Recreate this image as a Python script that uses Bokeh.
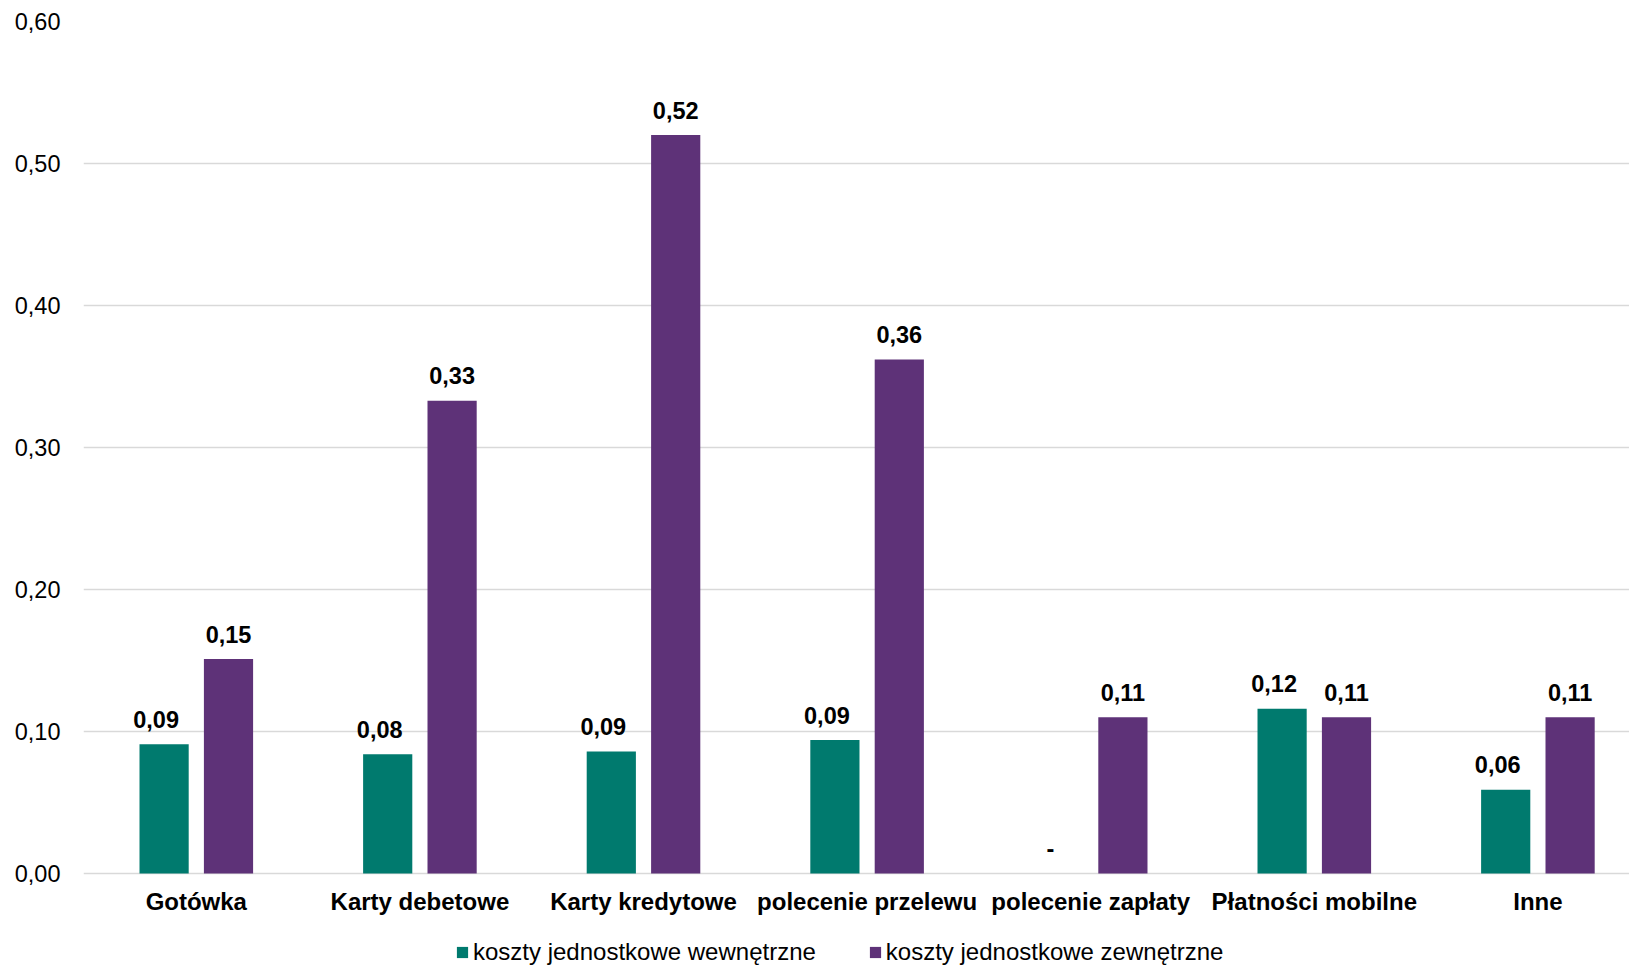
from bokeh.plotting import figure
from bokeh.models import ColumnDataSource, Range1d, Legend, LegendItem, FixedTicker
from bokeh.transform import dodge
from bokeh.core.properties import value
from bokeh.embed import file_html
from bokeh.resources import INLINE

categories = ["Gotówka", "Karty debetowe", "Karty kredytowe", "polecenie przelewu",
              "polecenie zapłaty", "Płatności mobilne", "Inne"]
internal = [0.091, 0.084, 0.086, 0.094, 0.0, 0.116, 0.059]
external = [0.151, 0.333, 0.520, 0.362, 0.110, 0.110, 0.110]
series_names = ["koszty jednostkowe wewnętrzne", "koszty jednostkowe zewnętrzne"]
y_ticks = [0.0, 0.1, 0.2, 0.3, 0.4, 0.5, 0.6]
y_tick_labels = ["0,00", "0,10", "0,20", "0,30", "0,40", "0,50", "0,60"]

TEAL = "#007A6E"
PURPLE = "#5E3278"
FONT = "Liberation Sans"

# layout: 1420 px per value unit; 223.6 px per category slot (the original plot area
# runs slightly past the right edge of the picture, so the x range is cut there)
PX_PER_UNIT = 1420
PX_PER_CAT = 223.6
FRAME_W = 1546
FRAME_H = 945
Y_MAX = 0.6
Y_MIN = Y_MAX - FRAME_H / PX_PER_UNIT
X_MIN = -1 / PX_PER_CAT
X_MAX = X_MIN + FRAME_W / PX_PER_CAT


def fmt(v):
    return "-" if v == 0 else f"{v:.2f}".replace(".", ",")


src = ColumnDataSource(dict(
    cat=categories,
    pos=[i + 0.5 for i in range(len(categories))],
    internal=internal,
    external=external,
    zero=[0.0] * len(categories),
    int_lbl=[fmt(v) for v in internal],
    ext_lbl=[fmt(v) for v in external],
))

p = figure(x_range=Range1d(X_MIN, X_MAX), y_range=Range1d(Y_MIN, Y_MAX),
           frame_width=FRAME_W, frame_height=FRAME_H, output_backend="svg",
           toolbar_location=None,
           min_border_left=83, min_border_top=21, min_border_right=0, min_border_bottom=0,
           outline_line_color=None, background_fill_color="white")

r1 = p.vbar(x=dodge("pos", -0.144), top="internal", bottom="zero",
            width=0.22, source=src, fill_color=TEAL, line_color=None)
r2 = p.vbar(x=dodge("pos", 0.144), top="external", bottom="zero",
            width=0.22, source=src, fill_color=PURPLE, line_color=None)

for col, off, dx in (("int", -0.144, -8), ("ext", 0.144, 0)):
    p.text(x=dodge("pos", off), y="internal" if col == "int" else "external",
           text=f"{col}_lbl", source=src, text_align="center", text_baseline="middle",
           x_offset=dx, y_offset=-25, text_font=value(FONT), text_font_style="bold",
           text_font_size="23.5px", text_color="black")

# category labels under the zero line
p.text(x="pos", y="zero", text="cat", source=src, text_align="center",
       text_baseline="middle", y_offset=28, text_font=value(FONT),
       text_font_style="bold", text_font_size="24px", text_color="black")

p.xaxis.visible = False
p.xgrid.grid_line_color = None
p.ygrid.grid_line_color = "#D9D9D9"
p.ygrid.grid_line_width = 1.5
p.ygrid.ticker = FixedTicker(ticks=y_ticks)

p.yaxis.ticker = FixedTicker(ticks=y_ticks)
p.yaxis.major_label_overrides = {t: l for t, l in zip(y_ticks, y_tick_labels)}
p.yaxis.axis_line_color = None
p.yaxis.major_tick_line_color = None
p.yaxis.minor_tick_line_color = None
p.yaxis.major_label_standoff = 17
p.yaxis.major_label_text_font = FONT
p.yaxis.major_label_text_font_size = "23.5px"
p.yaxis.major_label_text_color = "black"

legend = Legend(items=[LegendItem(label=series_names[0], renderers=[r1]),
                       LegendItem(label=series_names[1], renderers=[r2])],
                orientation="horizontal", location=(372, 0),
                border_line_color=None, background_fill_alpha=0,
                label_text_font=FONT, label_text_font_size="24px", label_text_color="black",
                glyph_width=14, glyph_height=14, label_standoff=4, spacing=52,
                padding=0, margin=0)
p.add_layout(legend)

open("out.html", "w").write(file_html(p, INLINE))
